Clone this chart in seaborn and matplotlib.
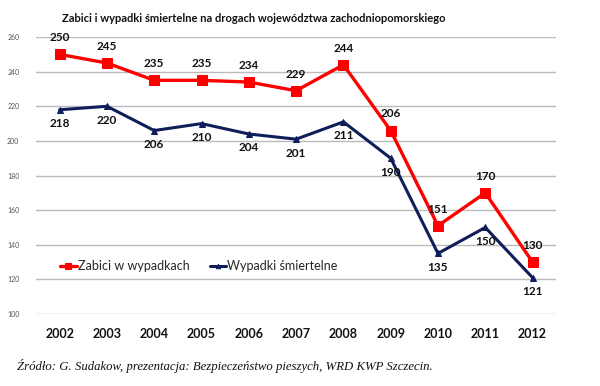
import matplotlib
matplotlib.use("Agg")
import matplotlib.pyplot as plt
import seaborn as sns
import pandas as pd

years = ["2002", "2003", "2004", "2005", "2006", "2007", "2008", "2009", "2010", "2011", "2012"]
zabici = [250, 245, 235, 235, 234, 229, 244, 206, 151, 170, 130]
wypadki = [218, 220, 206, 210, 204, 201, 211, 190, 135, 150, 121]
series_names = ["Zabici w wypadkach", "Wypadki śmiertelne"]
yticks = [100, 120, 140, 160, 180, 200, 220, 240, 260]

sns.set_style("white")
plt.rcParams['font.family'] = ['Lato', 'DejaVu Sans']

RED = "#FF0000"
NAVY = "#0F1E5A"

fig = plt.figure(figsize=(6.0, 3.86), dpi=100)
ax = fig.add_axes([0.06, 0.1865, 0.867, 0.7175])

idx = list(range(len(years)))
df1 = pd.DataFrame({"x": idx, "y": zabici})
df2 = pd.DataFrame({"x": idx, "y": wypadki})

sns.lineplot(data=df1, x="x", y="y", ax=ax, color=RED, linewidth=2.4,
             marker="s", markersize=7, markeredgecolor=RED, label=series_names[0])
sns.lineplot(data=df2, x="x", y="y", ax=ax, color=NAVY, linewidth=2.2,
             marker="^", markersize=4.5, markeredgecolor=NAVY, label=series_names[1])

for i, v in enumerate(zabici):
    ax.annotate(str(v), (i, v), xytext=(0, 8), textcoords="offset points",
                ha="center", va="bottom", fontsize=8.5, fontweight="bold", color="#111111")
for i, v in enumerate(wypadki):
    ax.annotate(str(v), (i, v), xytext=(0, -6), textcoords="offset points",
                ha="center", va="top", fontsize=8.5, fontweight="bold", color="#111111")

ax.set_xlim(-0.5, len(years) - 0.5)
ax.set_ylim(100, 260)
ax.set_yticks(yticks)
ax.set_yticklabels([str(t) for t in yticks], fontsize=5, color="#555555")
ax.set_xticks(idx)
ax.set_xticklabels(years, fontsize=9, fontweight="bold", color="#111111")
ax.tick_params(axis="x", length=0, pad=10)
ax.tick_params(axis="y", length=0, pad=12)
ax.grid(axis="y", color="#BBBBBB", linewidth=1.0)
ax.set_axisbelow(True)
for s in ax.spines.values():
    s.set_visible(False)
ax.set_xlabel("")
ax.set_ylabel("")

leg = ax.legend(loc="upper left", bbox_to_anchor=(0.025, 0.235), ncol=2, frameon=False,
                fontsize=9, handlelength=1.3, handletextpad=0.1, columnspacing=1.6,
                markerscale=0.7)

fig.text(0.423, 0.953, "Zabici i wypadki śmiertelne na drogach województwa zachodniopomorskiego",
         ha="center", va="center", fontsize=8, fontweight="bold", color="#111111")
fig.text(0.028, 0.052, "Źródło: G. Sudakow, prezentacja: Bezpieczeństwo pieszych, WRD KWP Szczecin.",
         ha="left", va="center", fontsize=9.2, style="italic", family=["Liberation Serif", "DejaVu Serif"],
         color="#111111")

fig.savefig("out.png", dpi=100)
